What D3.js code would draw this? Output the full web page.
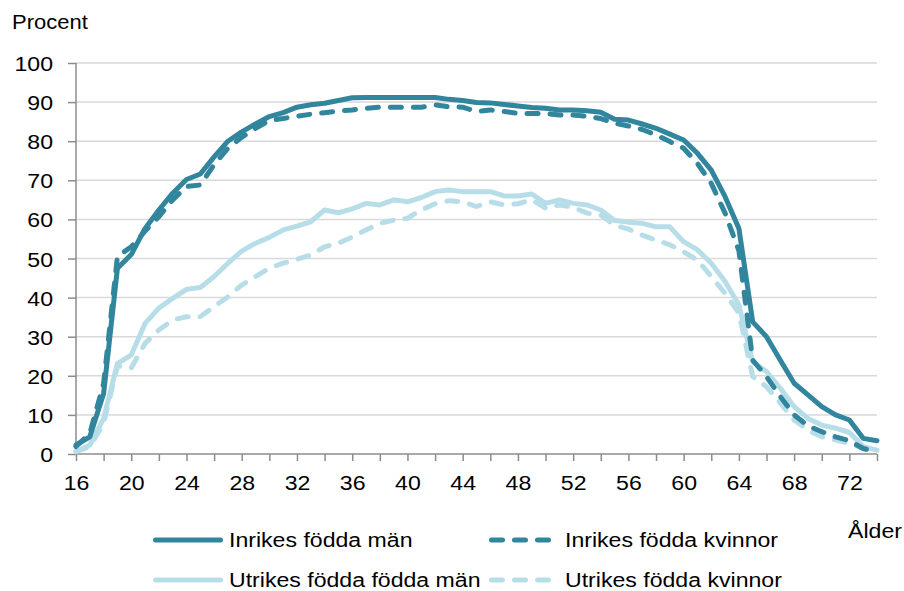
<!DOCTYPE html>
<html lang="sv">
<head>
	<meta charset="utf-8">
	<title>Sysselsättning efter ålder</title>
	<script src="https://d3js.org/d3.v7.min.js"></script>
	<style>
		body {
			margin: 0px;
			padding: 0px;
			background-color: #fff;
		}

		text {
			font-family: "Liberation Sans", Arial, Helvetica, sans-serif;
			fill: #000;
		}

		.grid line {
			stroke: #d9d9d9;
			stroke-width: 1.5;
		}

		.axis path,
		.axis line {
			stroke: #8c8c8c;
			stroke-width: 1.5;
		}
	</style>
</head>

<body>
	<div id="chart"></div>
	<script>

		// Data (procent per ålder 16-74)
		var ages = d3.range(16, 75);

		var inrikesMan = [2.3, 4.4, 15.5, 47.5, 51, 57.7, 62.4, 66.7, 70.2, 71.6,
			76, 80, 82.4, 84.4, 86.3, 87.3, 88.7, 89.3, 89.7, 90.4,
			91.1, 91.2, 91.2, 91.2, 91.2, 91.2, 91.2, 90.7, 90.4, 89.9,
			89.8, 89.4, 89, 88.6, 88.4, 88, 88, 87.8, 87.4, 85.6,
			85.4, 84.4, 83.3, 81.8, 80.3, 76.9, 72.6, 65.8, 57.7, 33.8,
			30, 24, 18.1, 15.1, 12.1, 10, 8.7, 4, 3.4];

		var inrikesKvinnor = [1.9, 5.3, 18, 50.5, 53, 57, 60.7, 65, 68.4, 68.8,
			74, 78.2, 81, 83.3, 85.3, 85.8, 86.4, 86.9, 87.3, 87.7,
			88, 88.4, 88.7, 88.7, 88.7, 88.7, 89.3, 88.8, 88.7, 87.6,
			88, 87.6, 87.1, 87.1, 87.1, 86.7, 86.7, 86.4, 85.8, 84.6,
			83.9, 83, 81.6, 79.9, 78.2, 74.3, 69.2, 61.6, 52, 24,
			19.8, 14.7, 10, 7.2, 5.7, 4.4, 3.4, 1.4, 0.6];

		var utrikesMan = [0.6, 2.3, 9.1, 23.2, 25.3, 33.4, 37.3, 39.8, 42.1, 42.6,
			45.4, 48.8, 51.9, 53.9, 55.4, 57.3, 58.3, 59.4, 62.4, 61.7,
			62.7, 64.1, 63.7, 65, 64.5, 65.6, 67.1, 67.5, 67.1, 67.1,
			67.1, 66, 66, 66.5, 64.1, 65, 64.1, 63.7, 62.4, 59.7,
			59.3, 59, 58.1, 58.1, 54.3, 52.2, 48.8, 44.1, 38.1, 23.6,
			21.1, 16.8, 12.1, 9.1, 7.4, 6.6, 5.5, 1.9, 1];

		var utrikesKvinnor = [0.6, 1.9, 7.8, 22.5, 22, 28.3, 31.7, 34.3, 35.1, 35.1,
			37.7, 40.2, 43.2, 45.4, 47.5, 48.8, 49.8, 50.9, 53, 53.9,
			55.5, 57.3, 59, 59.8, 60.3, 62.4, 64, 64.8, 64.5, 63.3,
			64.5, 63.7, 64, 65, 62.9, 63.7, 63.1, 61.6, 61.1, 58.5,
			57.5, 56, 54.7, 53.5, 51.7, 49.6, 45.4, 41.1, 36, 19.8,
			17.2, 13, 8.7, 6.1, 4.4, 3.6, 2.7, 1.4, 0.6];

		var seriesNames = ["Inrikes födda män", "Inrikes födda kvinnor",
			"Utrikes födda födda män", "Utrikes födda kvinnor"];

		var yTicks = d3.range(0, 101, 10);
		var xTicks = d3.range(16, 75, 2);

		// Colors and line styles
		{
			var color_dark = "#31859c";
			var color_light = "#b7dee8";
			var lineWidth = 5;
			var dash = "11,12";
			var textScale = 1.1;
		}

		// Sizes
		{
			var width = 904;
			var height = 591;

			var plot = {
				left: 76,
				right: 877,
				top: 63,
				bottom: 454
			};
		}

		var svg = d3.select("#chart")
			.append("svg")
			.attr("width", width)
			.attr("height", height);

		var x = d3.scaleLinear()
			.domain([16, 74])
			.range([plot.left, plot.right]);

		var y = d3.scaleLinear()
			.domain([0, 100])
			.range([plot.bottom, plot.top]);

		// Grid lines
		svg.append("g")
			.attr("class", "grid")
			.selectAll("line")
			.data(yTicks.filter(function (d) { return d > 0; }))
			.enter().append("line")
			.attr("x1", plot.left)
			.attr("x2", plot.right)
			.attr("y1", function (d) { return y(d); })
			.attr("y2", function (d) { return y(d); });

		// Y axis
		var yAxis = svg.append("g")
			.attr("class", "axis")
			.attr("transform", "translate(" + plot.left + ",0)")
			.call(d3.axisLeft(y).tickValues(yTicks).tickSize(8).tickSizeOuter(0));

		yAxis.selectAll("text")
			.attr("x", null)
			.attr("dy", "0.36em")
			.attr("transform", "translate(-23,0) scale(" + textScale + ",1)")
			.style("font-size", "21px")
			.attr("text-anchor", "end");

		// X axis, ticks every 2 years, labels every 4 years
		var xAxis = svg.append("g")
			.attr("class", "axis")
			.attr("transform", "translate(0," + plot.bottom + ")")
			.call(d3.axisBottom(x)
				.tickValues(xTicks)
				.tickSize(7)
				.tickSizeOuter(0)
				.tickFormat(function (d) { return (d - 16) % 4 === 0 ? d : ""; }));

		xAxis.selectAll("text")
			.attr("y", null)
			.attr("dy", null)
			.attr("transform", "translate(0,36) scale(" + textScale + ",1)")
			.style("font-size", "21px");

		svg.selectAll(".axis .domain").attr("d", null);
		svg.append("line")
			.attr("x1", plot.left).attr("x2", plot.left)
			.attr("y1", plot.top).attr("y2", plot.bottom)
			.attr("stroke", "#8c8c8c").attr("stroke-width", 1.5);
		svg.append("line")
			.attr("x1", plot.left).attr("x2", plot.right)
			.attr("y1", plot.bottom).attr("y2", plot.bottom)
			.attr("stroke", "#8c8c8c").attr("stroke-width", 1.5);

		// Axis titles
		svg.append("text")
			.attr("transform", "translate(12,29) scale(" + textScale + ",1)")
			.style("font-size", "20px")
			.text("Procent");

		svg.append("text")
			.attr("transform", "translate(902,538) scale(" + textScale + ",1)")
			.attr("text-anchor", "end")
			.style("font-size", "21px")
			.text("Ålder");

		// Lines
		var line = d3.line()
			.x(function (d, i) { return x(ages[i]); })
			.y(function (d) { return y(d); });

		var series = [
			{ name: seriesNames[2], values: utrikesMan, color: color_light, dashed: false },
			{ name: seriesNames[3], values: utrikesKvinnor, color: color_light, dashed: true },
			{ name: seriesNames[0], values: inrikesMan, color: color_dark, dashed: false },
			{ name: seriesNames[1], values: inrikesKvinnor, color: color_dark, dashed: true }
		];

		svg.append("g")
			.selectAll("path")
			.data(series)
			.enter().append("path")
			.attr("d", function (d) { return line(d.values); })
			.attr("fill", "none")
			.attr("stroke", function (d) { return d.color; })
			.attr("stroke-width", lineWidth)
			.attr("stroke-linecap", "round")
			.attr("stroke-linejoin", "round")
			.attr("stroke-dasharray", function (d) { return d.dashed ? dash : null; });

		// Legend
		var legendItems = [
			{ name: seriesNames[0], color: color_dark, dashed: false, x: 155.5, y: 540 },
			{ name: seriesNames[1], color: color_dark, dashed: true, x: 491.5, y: 540 },
			{ name: seriesNames[2], color: color_light, dashed: false, x: 155.5, y: 580 },
			{ name: seriesNames[3], color: color_light, dashed: true, x: 491.5, y: 580 }
		];

		var legend = svg.append("g")
			.selectAll("g")
			.data(legendItems)
			.enter().append("g")
			.attr("transform", function (d) { return "translate(" + d.x + "," + d.y + ")"; });

		legend.append("line")
			.attr("x1", 0)
			.attr("x2", function (d) { return d.dashed ? 58 : 65; })
			.attr("stroke", function (d) { return d.color; })
			.attr("stroke-width", lineWidth)
			.attr("stroke-linecap", "round")
			.attr("stroke-dasharray", function (d) { return d.dashed ? dash : null; });

		legend.append("text")
			.attr("transform", "translate(73.5,6.5) scale(" + textScale + ",1)")
			.style("font-size", "21px")
			.text(function (d) { return d.name; });

	</script>
</body>
</html>
